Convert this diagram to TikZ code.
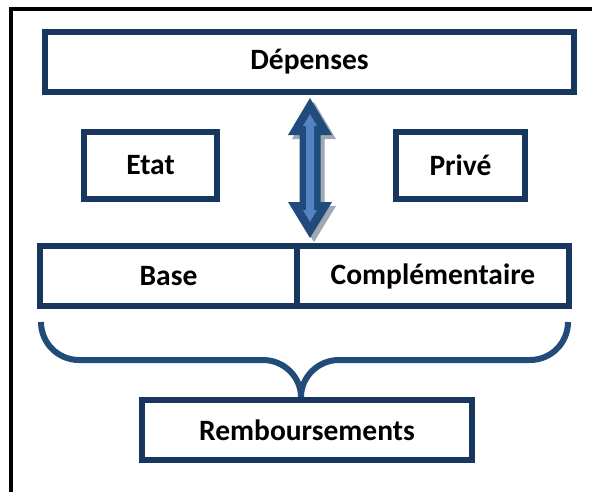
\documentclass[tikz,border=0pt]{standalone}
\usepackage{fontspec}
\setmainfont{Carlito}
\definecolor{boxblue}{RGB}{24,55,94}
\definecolor{braceblue}{RGB}{33,76,122}
\definecolor{arrowdark}{RGB}{33,74,125}
\definecolor{arrowlight}{RGB}{84,132,192}
\definecolor{shadowgray}{RGB}{160,168,182}
\begin{document}
\begin{tikzpicture}[x=1pt,y=-1pt,
  box/.style={draw=boxblue,line width=6pt,fill=white,inner sep=0pt,
    font=\fontsize{29.5}{32}\selectfont\bfseries,text=black}]
\useasboundingbox (0,0) rectangle (592,491);
\clip (0,0) rectangle (592,491);
\fill[white] (0,0) rectangle (592,491);
% outer frame (cropped)
\draw[black,line width=4pt] (11,9) rectangle (640,540);
% boxes
\node[box,minimum width=529pt,minimum height=60pt] (dep) at (309.5,62) {Dépenses};
\node[box,minimum width=133pt,minimum height=67pt] (etat) at (150.5,165.5) {Etat};
\node[box,minimum width=129pt,minimum height=67pt] (prive) at (460.5,165.5) {Privé};
\node[box,minimum width=257pt,minimum height=60pt] (base) at (168.5,276) {Base};
\node[box,minimum width=272pt,minimum height=60pt] (compl) at (433,276) {Complémentaire};
\node[box,minimum width=330pt,minimum height=60pt] (remb) at (307,430) {Remboursements};
% double block arrow
\fill[shadowgray] (314,102) -- (336,139) -- (324.5,139) -- (324.5,206) -- (336,206) -- (314,242)
  -- (292,206) -- (303.5,206) -- (303.5,139) -- (292,139) -- cycle;
\fill[arrowdark] (310,98) -- (332,135) -- (320.5,135) -- (320.5,202) -- (332,202) -- (310,238)
  -- (288,202) -- (299.5,202) -- (299.5,135) -- (288,135) -- cycle;
\fill[arrowlight] (310,114) -- (317,126) -- (314,126) -- (314,210) -- (317,210) -- (310,222)
  -- (303,210) -- (306,210) -- (306,126) -- (303,126) -- cycle;
% brace
\draw[braceblue,line width=6pt]
  (41,322) .. controls (41,343) and (58,360) .. (79,360)
  -- (263,360) .. controls (284,360) and (301,377) .. (301,397)
  .. controls (301,377) and (318,360) .. (339,360)
  -- (530,360) .. controls (551,360) and (568,343) .. (568,322);
\end{tikzpicture}
\end{document}
